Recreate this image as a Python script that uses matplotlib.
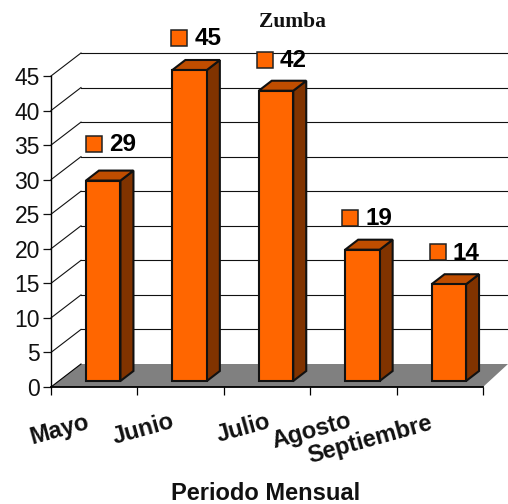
import matplotlib
matplotlib.use("Agg")
import matplotlib.pyplot as plt
from matplotlib.patches import Polygon
from matplotlib.transforms import offset_copy

months = ["Mayo", "Junio", "Julio", "Agosto", "Septiembre"]
values = [29, 45, 42, 19, 14]
y_ticks = list(range(0, 50, 5))

W, H = 508, 504
plt.rcParams["font.family"] = ["Liberation Sans", "DejaVu Sans"]
fig = plt.figure(figsize=(W / 100, H / 100), dpi=100)
ax = fig.add_axes([51 / W, (H - 387) / H, 432 / W, 311 / H])
ax.set_xlim(-0.5, 4.5)
ax.set_ylim(0, 45)
ax.patch.set_visible(False)
for s in ax.spines.values():
    s.set_visible(False)

def shifted(dx, dy):
    return offset_copy(ax.transData, fig=fig, x=dx, y=dy, units="dots")

DX, DY = 30, 23          # wall depth in pixels
BX, BY = 9, 6            # bar placement inside the floor
SX, SY = 13, 10          # bar depth
BAR_W = 34.5 / 86.4
LEFT, RIGHT = -0.5, 4.5

# floor
ax.add_patch(Polygon([(LEFT, 0), (RIGHT, 0), (RIGHT + 25 / 86.4, 23 / 6.911), (LEFT + DX / 86.4, 23 / 6.911)],
                     closed=True, fc="#808080", ec="none", clip_on=False, zorder=1))

back = shifted(DX, DY)
for v in y_ticks[1:]:
    ax.plot([LEFT, RIGHT], [v, v], transform=back, color="#111111", lw=0.8, clip_on=False, zorder=1.5)
    ax.plot([LEFT, LEFT + DX / 86.4], [v, v + DY / 6.911], color="#111111", lw=0.8, clip_on=False, zorder=1.5)
ax.plot([LEFT, LEFT + DX / 86.4], [0, DY / 6.911], color="black", lw=0.8, clip_on=False, zorder=1.6)

# axes lines
ax.plot([LEFT, LEFT], [0, 45], color="black", lw=1.0, clip_on=False, zorder=2)
ax.plot([LEFT, RIGHT], [0, 0], color="black", lw=1.3, clip_on=False, zorder=2)

# ticks
ax.set_yticks(y_ticks)
ax.set_xticks([LEFT + i for i in range(6)])
ax.set_xticklabels([])
ax.tick_params(axis="y", length=6, width=0.9, pad=2, labelsize=16.5, colors="#111111")
ax.tick_params(axis="x", length=6, width=0.9)

# bars
front = shifted(BX, BY)
ax.bar(range(5), values, width=BAR_W, color="#FF6600", edgecolor="#111111", linewidth=1.5,
       transform=front, clip_on=False, zorder=5, joinstyle="miter")
sx, sy = SX / 86.4, SY / 6.911
for i, v in enumerate(values):
    x0, x1 = i - BAR_W / 2, i + BAR_W / 2
    ax.add_patch(Polygon([(x1, 0), (x1 + sx, sy), (x1 + sx, v + sy), (x1, v)], closed=True, fc="#803300",
                         ec="#111111", lw=1.5, transform=front, clip_on=False, zorder=4))
    ax.add_patch(Polygon([(x0, v), (x0 + sx, v + sy), (x1 + sx, v + sy), (x1, v)], closed=True, fc="#BF4D00",
                         ec="#111111", lw=1.5, transform=front, clip_on=False, zorder=4))

# data labels: legend key + value
label_dx = [0, -1, -2, -3, -2]
label_dy = [37, 32, 31, 32, 32]
for i, v in enumerate(values):
    px = label_dx[i]
    ax.plot([i - BAR_W / 2 + 8 / 86.4], [v], marker="s", ms=11, mfc="#FF6600", mec="#222222", mew=1.1,
            transform=offset_copy(ax.transData, fig=fig, x=BX + px, y=BY + label_dy[i], units="dots"),
            clip_on=False, zorder=6)
    ax.text(i - BAR_W / 2 + 8 / 86.4, v, str(v), fontsize=17.5, fontweight="bold", color="black",
            ha="left", va="center",
            transform=offset_copy(ax.transData, fig=fig, x=BX + px + 15, y=BY + label_dy[i] - 1, units="dots"),
            clip_on=False, zorder=6)

# category labels (offsets in pixels from the category centre)
label_shift = [-35, -37, -24, -42, -70]
label_y = [-43, -42, -41, -44, -53]
for i, name in enumerate(months):
    ax.annotate(name, (i, 0), xycoords="data", xytext=((label_shift[i]) * 0.72, label_y[i] * 0.72),
                textcoords="offset points", rotation=15.5, rotation_mode="anchor", ha="center", va="center",
                fontsize=17, fontweight="bold", color="#111111", annotation_clip=False)

fig.text(292 / W, 1 - 22 / H, "Zumba", ha="center", va="center", family=["Liberation Serif"],
         fontsize=15.5, fontweight="bold", color="#111111")
fig.text(266 / W, 1 - 493 / H, "Periodo Mensual", ha="center", va="center", fontsize=17,
         fontweight="bold", color="#111111")

fig.savefig("out.png", dpi=100)
